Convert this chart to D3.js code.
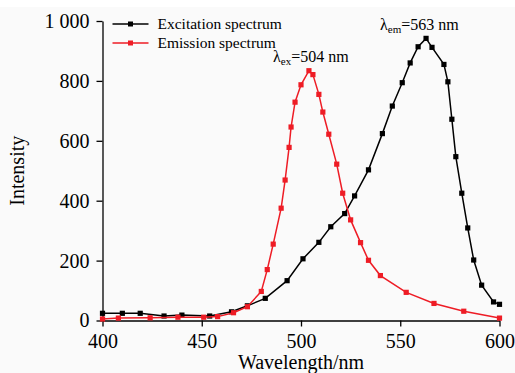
<!DOCTYPE html>
<html>
<head>
<meta charset="utf-8">
<script src="https://cdn.jsdelivr.net/npm/d3@7"></script>
<style>
  html, body { margin: 0; padding: 0; background: #fff; }
  svg { display: block; font-family: "Liberation Serif", "Times New Roman", serif; }
  .axis path, .axis line { stroke: #000; stroke-width: 1.3; }
</style>
</head>
<body>
<div class="chart"></div>
<script>
// Excitation spectrum (black)
const excitationWl = [400, 410, 419, 431, 440, 454, 465, 473, 482, 493, 501, 509, 515, 522, 527, 534, 541, 546, 551, 555, 559, 563, 566, 572, 574, 576, 578, 581, 584, 587, 591, 597, 600];
const excitationInt = [24, 24, 24, 15, 18, 15, 29, 49, 74, 133, 206, 261, 313, 357, 416, 503, 624, 716, 794, 860, 914, 942, 912, 855, 797, 672, 547, 425, 309, 202, 118, 62, 54];

// Emission spectrum (red)
const emissionWl = [400, 408, 424, 438, 451, 458, 466, 473, 480, 483, 486, 490, 492, 494, 495, 497, 500, 504, 506, 509, 511, 514, 518, 521, 525, 530, 534, 540, 553, 567, 582, 600];
const emissionInt = [5, 8, 9, 11, 11, 13, 26, 46, 97, 170, 255, 375, 469, 578, 646, 729, 787, 834, 821, 755, 696, 622, 522, 425, 336, 260, 201, 150, 94, 57, 31, 8];

const xTicks = [400, 450, 500, 550, 600];
const yTicks = [0, 200, 400, 600, 800, 1000];
const yTickLabels = ["0", "200", "400", "600", "800", "1 000"];

const seriesNames = ["Excitation spectrum", "Emission spectrum"];
const seriesColors = ["#000000", "#ee1c25"];

const SERIF = '"Liberation Serif", "Times New Roman", serif';

document.addEventListener('DOMContentLoaded', () => {
    const W = 515, H = 373;
    const margin = {top: 21, right: 15.5, bottom: 52.5, left: 102.5};
    const width = W - margin.left - margin.right;
    const height = H - margin.top - margin.bottom;

    const svg = d3.select(".chart").append("svg")
        .attr("width", W)
        .attr("height", H);

    // light grey backdrop of the original figure
    svg.append("rect")
        .attr("x", 0).attr("y", 7)
        .attr("width", W).attr("height", H - 7)
        .attr("fill", "#fafafa");

    const g = svg.append("g")
        .attr("transform", `translate(${margin.left}, ${margin.top})`);

    const x = d3.scaleLinear().domain([400, 600]).range([0, width]);
    const y = d3.scaleLinear().domain([0, 1000]).range([height, 0]);

    // axes
    const xAxis = g.append("g")
        .attr("class", "axis x-axis")
        .attr("transform", `translate(0, ${height})`)
        .call(d3.axisBottom(x).tickValues(xTicks).tickSize(6).tickSizeOuter(0).tickPadding(7).tickFormat(d3.format("d")));

    const yAxis = g.append("g")
        .attr("class", "axis y-axis")
        .call(d3.axisLeft(y).tickValues(yTicks).tickSize(6).tickSizeOuter(0).tickPadding(7)
            .tickFormat((d, i) => yTickLabels[i]));

    // d3 puts sans-serif on the axis group; force the serif face on the labels
    [xAxis, yAxis].forEach(a => {
        a.attr("font-family", SERIF).attr("font-size", 20);
        a.selectAll("text")
            .style("font-family", SERIF)
            .style("font-size", "20px")
            .attr("fill", "#000");
    });

    // axis titles
    g.append("text")
        .attr("x", width / 2)
        .attr("y", 369 - margin.top)
        .attr("text-anchor", "middle")
        .attr("font-size", 20)
        .text("Wavelength/nm");

    g.append("text")
        .attr("transform", "rotate(-90)")
        .attr("x", -(height / 2))
        .attr("y", 24 - margin.left)
        .attr("text-anchor", "middle")
        .attr("font-size", 20)
        .text("Intensity");

    // series
    const series = [
        {wl: excitationWl, val: excitationInt, color: seriesColors[0]},
        {wl: emissionWl, val: emissionInt, color: seriesColors[1]}
    ];

    const line = d3.line().x(d => x(d[0])).y(d => y(d[1]));

    series.forEach(s => {
        const pts = s.wl.map((w, i) => [w, s.val[i]]);
        g.append("path")
            .datum(pts)
            .attr("fill", "none")
            .attr("stroke", s.color)
            .attr("stroke-width", 1.5)
            .attr("d", line);
        g.selectAll(null)
            .data(pts)
            .enter()
            .append("rect")
                .attr("x", d => x(d[0]) - 2.6)
                .attr("y", d => y(d[1]) - 2.6)
                .attr("width", 5.2)
                .attr("height", 5.2)
                .attr("fill", s.color);
    });

    // legend
    const legend = g.append("g").attr("transform", "translate(10, 3)");
    seriesNames.forEach((name, i) => {
        const row = legend.append("g").attr("transform", `translate(0, ${i * 19})`);
        row.append("line")
            .attr("x1", 0).attr("x2", 36)
            .attr("y1", 0).attr("y2", 0)
            .attr("stroke", seriesColors[i])
            .attr("stroke-width", 1.3);
        row.append("rect")
            .attr("x", 15.5).attr("y", -2.5)
            .attr("width", 5).attr("height", 5)
            .attr("fill", seriesColors[i]);
        row.append("text")
            .attr("x", 45)
            .attr("y", 5)
            .attr("font-size", 15.5)
            .text(name);
    });

    // peak annotations
    const ann = [
        {sub: "ex", val: "=504 nm", x: 273 - margin.left, y: 62 - margin.top},
        {sub: "em", val: "=563 nm", x: 380 - margin.left, y: 30 - margin.top}
    ];
    ann.forEach(a => {
        const t = g.append("text")
            .attr("x", a.x)
            .attr("y", a.y)
            .attr("font-size", 16);
        t.append("tspan").text("λ");
        t.append("tspan").attr("font-size", 11).attr("dy", 3).text(a.sub);
        t.append("tspan").attr("dy", -3).text(a.val);
    });
});
</script>
</body>
</html>
